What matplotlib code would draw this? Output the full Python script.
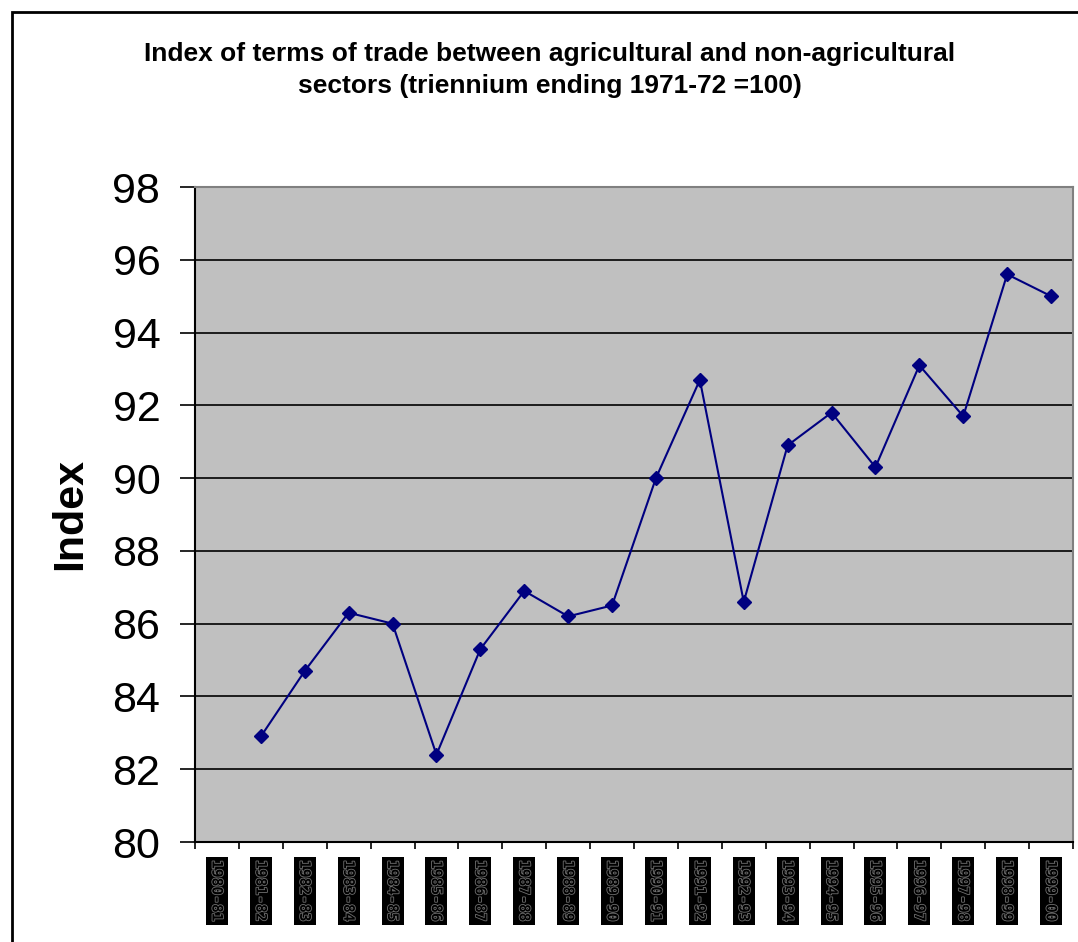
import matplotlib.pyplot as plt
import matplotlib.patheffects as pe
from matplotlib.patches import Rectangle
import numpy as np

plt.rcParams['font.family'] = ['Liberation Sans', 'DejaVu Sans']

years = ["1980-81", "1981-82", "1982-83", "1983-84", "1984-85", "1985-86", "1986-87",
         "1987-88", "1988-89", "1989-90", "1990-91", "1991-92", "1992-93", "1993-94",
         "1994-95", "1995-96", "1996-97", "1997-98", "1998-99", "1999-00"]
index = [np.nan, 82.9, 84.7, 86.3, 86.0, 82.4, 85.3, 86.9, 86.2, 86.5, 90.0,
         92.7, 86.6, 90.9, 91.8, 90.3, 93.1, 91.7, 95.6, 95.0]

fig = plt.figure(figsize=(10.78, 9.42), dpi=100)

# outer chart border
fig.patches.append(Rectangle((12 / 1078, -0.05), 1.1, 1 - 12 / 942 + 0.05,
                             transform=fig.transFigure, fill=False,
                             edgecolor="black", linewidth=2))

ax = fig.add_axes([195 / 1078, 100 / 942, 878 / 1078, 655 / 942])
ax.set_facecolor("#c0c0c0")

x = np.arange(len(years))
ax.plot(x, index, color="#000080", linewidth=1.5, marker="D", markersize=7)

ax.set_ylim(80, 98)
ax.set_yticks(np.arange(80, 99, 2))
ax.tick_params(axis="y", labelsize=31, length=11, width=1.2, pad=14, direction="out")
ax.yaxis.grid(True, color="black", linewidth=1.2)
ax.set_axisbelow(True)

ax.set_xlim(-0.5, len(years) - 0.5)
ax.set_xticks(x)
ax.set_xticklabels(years, rotation=-90, family="DejaVu Sans Mono", fontsize=10.5,
                   color="black", fontweight="bold")
ax.set_xticks(np.arange(-0.5, len(years), 1), minor=True)
ax.tick_params(axis="x", which="major", length=0, pad=13)
ax.tick_params(axis="x", which="minor", length=5, width=1.2, direction="out")
for lab in ax.get_xticklabels():
    lab.set_bbox(dict(facecolor="black", edgecolor="none", pad=2.5))
    lab.set_path_effects([pe.withStroke(linewidth=1.2, foreground="#707070")])

for s in ["left", "bottom"]:
    ax.spines[s].set_color("black")
    ax.spines[s].set_linewidth(1.5)
for s in ["top", "right"]:
    ax.spines[s].set_color("#808080")
    ax.spines[s].set_linewidth(1.5)

ax.set_ylabel("Index", fontsize=31, fontweight="bold", labelpad=16)

fig.text(550 / 1078, 1 - 70 / 942,
         "Index of terms of trade between agricultural and non-agricultural\n"
         "sectors (triennium ending 1971-72 =100)",
         ha="center", va="center", fontsize=19, fontweight="bold", linespacing=1.45)

fig.savefig("out.png", dpi=100)
